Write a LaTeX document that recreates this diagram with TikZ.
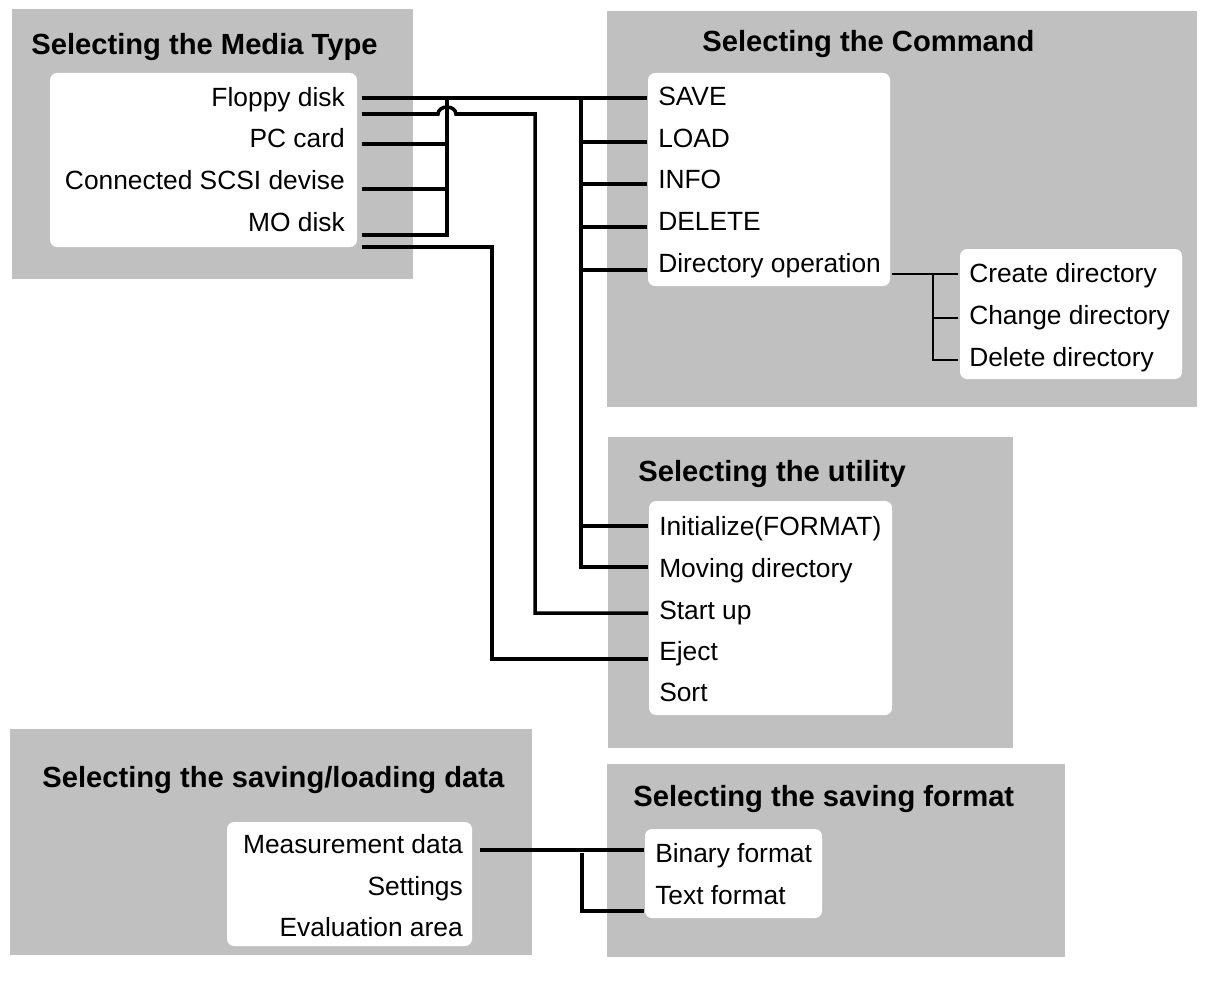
\documentclass[tikz,border=0pt]{standalone}
\usepackage{fontspec}
\setmainfont{Liberation Sans}

\definecolor{panelGray}{RGB}{192,192,192}

\tikzset{
    panel/.style={fill=panelGray},
    listBox/.style={fill=white, rounded corners=4pt},
    titleText/.style={font=\fontsize{16.6}{20}\selectfont\bfseries, inner sep=0pt, anchor=base west},
    itemLeft/.style={font=\fontsize{15}{18}\selectfont, inner ysep=0pt, inner xsep=6.2pt, anchor=base west},
    itemRight/.style={font=\fontsize{15}{18}\selectfont, inner ysep=0pt, inner xsep=9.6pt, anchor=base east},
    wire/.style={draw=black, line width=2pt},
    thinWire/.style={draw=black, line width=1.2pt}
}

\begin{document}
\begin{tikzpicture}[x=0.02cm, y=-0.02cm]
    \useasboundingbox (0,0) rectangle (1212,983);

    % panels
    \fill[panel] (12,9) rectangle (413,279);
    \fill[listBox] (50,73) rectangle (357,247);
    \fill[panel] (607,11) rectangle (1197,407);
    \fill[listBox] (648,73) rectangle (890,286);
    \fill[listBox] (960,249) rectangle (1182,379);
    \fill[panel] (608,437) rectangle (1013,748);
    \fill[listBox] (649,501) rectangle (892,715);
    \fill[panel] (10,729) rectangle (532,955);
    \fill[listBox] (227,822) rectangle (472,946);
    \fill[panel] (607,764) rectangle (1065,957);
    \fill[listBox] (645,829) rectangle (822,918);

    % titles
    \node[titleText] (ndMediaTitle) at (31,55) {Selecting the Media Type};
    \node[titleText] (ndCommandTitle) at (702,52) {Selecting the Command};
    \node[titleText] (ndUtilityTitle) at (638,481) {Selecting the utility};
    \node[titleText] (ndDataTitle) at (42,787) {Selecting the saving/loading data};
    \node[titleText] (ndFormatTitle) at (633,806) {Selecting the saving format};

    % items
    \node[itemRight] (ndFloppy) at (362,107) {Floppy disk};
    \node[itemRight] (ndPcCard) at (362,148) {PC card};
    \node[itemRight] (ndScsi) at (362,189.5) {Connected SCSI devise};
    \node[itemRight] (ndMoDisk) at (362,231) {MO disk};

    \node[itemLeft] (ndSave) at (647,106) {SAVE};
    \node[itemLeft] (ndLoad) at (647,147.5) {LOAD};
    \node[itemLeft] (ndInfo) at (647,189) {INFO};
    \node[itemLeft] (ndDelete) at (647,230) {DELETE};
    \node[itemLeft] (ndDirOp) at (647,272) {Directory operation};

    \node[itemLeft] (ndCreateDir) at (958,282) {Create directory};
    \node[itemLeft] (ndChangeDir) at (958,324) {Change directory};
    \node[itemLeft] (ndDeleteDir) at (958,366) {Delete directory};

    \node[itemLeft] (ndInit) at (648,535) {Initialize(FORMAT)};
    \node[itemLeft] (ndMoving) at (648,577) {Moving directory};
    \node[itemLeft] (ndStartUp) at (648,619) {Start up};
    \node[itemLeft] (ndEject) at (648,660) {Eject};
    \node[itemLeft] (ndSort) at (648,701) {Sort};

    \node[itemRight] (ndMeasure) at (480,853) {Measurement data};
    \node[itemRight] (ndSettings) at (480,895) {Settings};
    \node[itemRight] (ndEvalArea) at (480,936) {Evaluation area};

    \node[itemLeft] (ndBinary) at (644,862) {Binary format};
    \node[itemLeft] (ndTextFmt) at (644,904) {Text format};

    % media -> command / utility
    \draw[wire] (ndFloppy.east |- 0,98) -- (ndSave.west |- 0,98);
    \draw[wire] (ndMoDisk.east |- 0,235) -| (447,98);
    \draw[wire] (ndPcCard.east |- 0,144) -- (447,144);
    \draw[wire] (ndScsi.east |- 0,189) -- (447,189);
    \draw[wire] (ndFloppy.east |- 0,114) -- (438,114) arc[start angle=180, end angle=0, x radius=5.1pt, y radius=4pt] -- (535,114) |- (ndStartUp.west |- 0,613);
    \draw[wire] (ndMoDisk.east |- 0,247) -- (492,247) |- (ndEject.west |- 0,659);

    % command bus
    \draw[wire] (581,98) |- (ndMoving.west |- 0,567);
    \foreach \ndName/\yy in {ndLoad/142, ndInfo/184, ndDelete/227, ndDirOp/270, ndInit/526}
        \draw[wire] (581,\yy) -- (\ndName.west |- 0,\yy);

    % directory operation
    \draw[thinWire] (ndDirOp.east |- 0,274) -- (ndCreateDir.west |- 0,274);
    \draw[thinWire] (933,274) |- (ndDeleteDir.west |- 0,360);
    \draw[thinWire] (933,318) -- (ndChangeDir.west |- 0,318);

    % data -> format
    \draw[wire] (ndMeasure.east |- 0,850) -- (ndBinary.west |- 0,850);
    \draw[wire] (582,853) |- (ndTextFmt.west |- 0,911);
\end{tikzpicture}
\end{document}
